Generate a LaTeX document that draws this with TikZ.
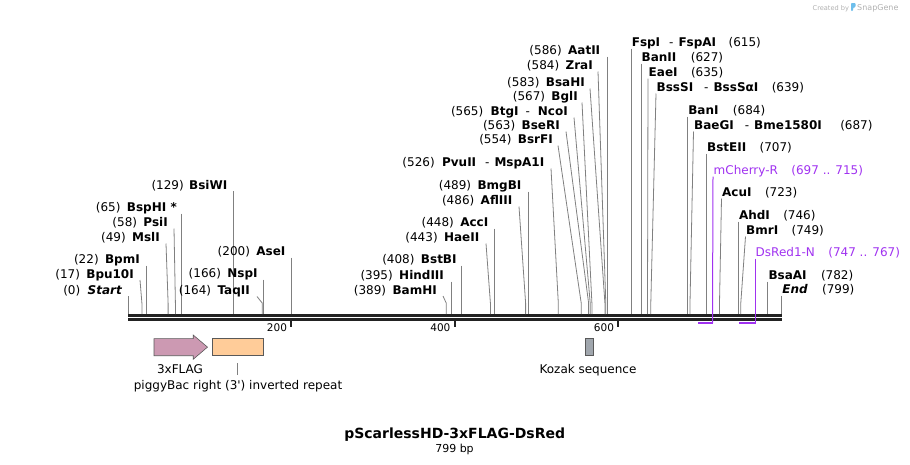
\documentclass[tikz,border=0pt]{standalone}
\usepackage{fontspec}
\setmainfont{DejaVu Sans}
\usetikzlibrary{positioning}
\definecolor{cutgray}{RGB}{128,128,128}
\definecolor{primerpurple}{RGB}{160,50,240}
\definecolor{flagpink}{RGB}{204,153,178}
\definecolor{irorange}{RGB}{255,204,153}
\definecolor{kozakgray}{RGB}{160,166,173}
\definecolor{barblack}{RGB}{34,34,34}
\definecolor{markgray}{RGB}{176,176,176}
\definecolor{markblue}{RGB}{110,190,235}
\begin{document}
\begin{tikzpicture}[x=1pt,y=-1pt,
  enz/.style={inner sep=0pt,font=\fontsize{12}{14}\selectfont\bfseries},
  endlab/.style={inner sep=0pt,font=\fontsize{12}{14}\selectfont\bfseries\itshape},
  num/.style={inner sep=0pt,font=\fontsize{12}{14}\selectfont},
  cut/.style={cutgray,line width=0.8pt},
  feat/.style={draw=black!65,line width=0.6pt}]
\useasboundingbox (0,0) rectangle (910,464);

% the sequence
\draw[barblack,line width=3pt] (128,315.5) -- (781.7,315.5);
\draw[barblack,line width=3pt] (128,319.5) -- (781.7,319.5);
\coordinate (k200) at (291.2,321);
\coordinate (k400) at (454.6,321);
\coordinate (k600) at (618.2,321);
\draw[barblack,line width=2pt] (k200) -- ++(0,6);
\draw[barblack,line width=2pt] (k400) -- ++(0,6);
\draw[barblack,line width=2pt] (k600) -- ++(0,6);
\node[num,font=\fontsize{10.5}{12}\selectfont,anchor=base east] (n200) at ([shift={(-4,10)}]k200) {200};
\node[num,font=\fontsize{10.5}{12}\selectfont,anchor=base east] (n400) at ([shift={(-4,10)}]k400) {400};
\node[num,font=\fontsize{10.5}{12}\selectfont,anchor=base east] (n600) at ([shift={(-4,10)}]k600) {600};

% sites left of their lines
\coordinate (s0) at (128,314);
\node[endlab,anchor=base east] (Start) at (122,294) {Start};
\node[num,left=7pt of Start.base west,anchor=base east] (pStart) {(0)};
\draw[cut] ([shift={(6,2)}]Start.base east) -- (s0);

\coordinate (s17) at (141.9,314);
\node[enz,anchor=base east] (Bpu10I) at (134,278) {Bpu10I};
\node[num,left=6pt of Bpu10I.base west,anchor=base east] (pBpu10I) {(17)};
\draw[cut] ([shift={(6,2)}]Bpu10I.base east) -- ([shift={(0,-11)}]s17) -- (s17);

\coordinate (s22) at (146,314);
\node[enz,anchor=base east] (BpmI) at (140,263.5) {BpmI};
\node[num,left=6pt of BpmI.base west,anchor=base east] (pBpmI) {(22)};
\draw[cut] ([shift={(6,2)}]BpmI.base east) -- (s22);

\coordinate (s49) at (168.1,314);
\node[enz,anchor=base east] (MslI) at (160,241.5) {MslI};
\node[num,left=6pt of MslI.base west,anchor=base east] (pMslI) {(49)};
\draw[cut] ([shift={(6,2)}]MslI.base east) -- ([shift={(0,-11)}]s49) -- (s49);

\coordinate (s58) at (175.4,314);
\node[enz,anchor=base east] (PsiI) at (168,226.5) {PsiI};
\node[num,left=6pt of PsiI.base west,anchor=base east] (pPsiI) {(58)};
\draw[cut] ([shift={(6,2)}]PsiI.base east) -- ([shift={(0,-11)}]s58) -- (s58);

\coordinate (s65) at (181.2,314);
\node[enz,anchor=base east] (BspHI) at (177,211.5) {BspHI *};
\node[num,left=6pt of BspHI.base west,anchor=base east] (pBspHI) {(65)};
\draw[cut] ([shift={(4.2,2)}]BspHI.base east) -- (s65);

\coordinate (s129) at (233.5,314);
\node[enz,anchor=base east] (BsiWI) at (227.5,189) {BsiWI};
\node[num,left=5pt of BsiWI.base west,anchor=base east] (pBsiWI) {(129)};
\draw[cut] ([shift={(6,2)}]BsiWI.base east) -- (s129);

\coordinate (s164) at (262.2,314);
\node[enz,anchor=base east] (TaqII) at (250,294.5) {TaqII};
\node[num,left=6pt of TaqII.base west,anchor=base east] (pTaqII) {(164)};
\draw[cut] ([shift={(7,2)}]TaqII.base east) -- ([shift={(0,-11)}]s164) -- (s164);

\coordinate (s166) at (263.8,314);
\node[enz,anchor=base east] (NspI) at (257.8,277.5) {NspI};
\node[num,left=6pt of NspI.base west,anchor=base east] (pNspI) {(166)};
\draw[cut] ([shift={(6,2)}]NspI.base east) -- (s166);

\coordinate (s200) at (291.6,314);
\node[enz,anchor=base east] (AseI) at (285.6,255.5) {AseI};
\node[num,left=6pt of AseI.base west,anchor=base east] (pAseI) {(200)};
\draw[cut] ([shift={(6,2)}]AseI.base east) -- (s200);

\coordinate (s389) at (446.2,314);
\node[enz,anchor=base east] (BamHI) at (437,294) {BamHI};
\node[num,left=6pt of BamHI.base west,anchor=base east] (pBamHI) {(389)};
\draw[cut] ([shift={(6,2)}]BamHI.base east) -- ([shift={(0,-11)}]s389) -- (s389);

\coordinate (s395) at (451.1,314);
\node[enz,anchor=base east] (HindIII) at (444.1,279.5) {HindIII};
\node[num,left=6pt of HindIII.base west,anchor=base east] (pHindIII) {(395)};
\draw[cut] ([shift={(7,2)}]HindIII.base east) -- (s395);

\coordinate (s408) at (461.8,314);
\node[enz,anchor=base east] (BstBI) at (456.8,263.5) {BstBI};
\node[num,left=6pt of BstBI.base west,anchor=base east] (pBstBI) {(408)};
\draw[cut] ([shift={(5,2)}]BstBI.base east) -- (s408);

\coordinate (s443) at (490.4,314);
\node[enz,anchor=base east] (HaeII) at (479.5,241.5) {HaeII};
\node[num,left=6pt of HaeII.base west,anchor=base east] (pHaeII) {(443)};
\draw[cut] ([shift={(6.5,2)}]HaeII.base east) -- ([shift={(0,-11)}]s443) -- (s443);

\coordinate (s448) at (494.5,314);
\node[enz,anchor=base east] (AccI) at (488.5,226.5) {AccI};
\node[num,left=6pt of AccI.base west,anchor=base east] (pAccI) {(448)};
\draw[cut] ([shift={(6,2)}]AccI.base east) -- (s448);

\coordinate (s486) at (525.6,314);
\node[enz,anchor=base east] (AflIII) at (512.5,204.5) {AflIII};
\node[num,left=6pt of AflIII.base west,anchor=base east] (pAflIII) {(486)};
\draw[cut] ([shift={(6.5,2)}]AflIII.base east) -- ([shift={(0,-11)}]s486) -- (s486);

\coordinate (s489) at (528.1,314);
\node[enz,anchor=base east] (BmgBI) at (521.6,189.5) {BmgBI};
\node[num,left=6pt of BmgBI.base west,anchor=base east] (pBmgBI) {(489)};
\draw[cut] ([shift={(6.5,2)}]BmgBI.base east) -- (s489);

\coordinate (s526) at (558.3,314);
\node[enz,anchor=base east] (PvuII) at (544.5,166.5) {PvuII\hspace{9pt}{\mdseries -}\hspace{5pt}MspA1I};
\node[num,left=7pt of PvuII.base west,anchor=base east] (pPvuII) {(526)};
\draw[cut] ([shift={(6.5,2)}]PvuII.base east) -- ([shift={(0,-11)}]s526) -- (s526);

\coordinate (s554) at (581.2,314);
\node[enz,anchor=base east] (BsrFI) at (553,143.5) {BsrFI};
\node[num,left=6pt of BsrFI.base west,anchor=base east] (pBsrFI) {(554)};
\draw[cut] ([shift={(5,2)}]BsrFI.base east) -- ([shift={(0,-11)}]s554) -- (s554);

\coordinate (s563) at (588.6,314);
\node[enz,anchor=base east] (BseRI) at (560,129.5) {BseRI};
\node[num,left=6pt of BseRI.base west,anchor=base east] (pBseRI) {(563)};
\draw[cut] ([shift={(6,2)}]BseRI.base east) -- ([shift={(0,-11)}]s563) -- (s563);

\coordinate (s565) at (590.2,314);
\node[enz,anchor=base east] (BtgI) at (568,115.5) {BtgI\hspace{7pt}{\mdseries -}\hspace{8pt}NcoI};
\node[num,left=7pt of BtgI.base west,anchor=base east] (pBtgI) {(565)};
\draw[cut] ([shift={(6,2)}]BtgI.base east) -- ([shift={(0,-11)}]s565) -- (s565);

\coordinate (s567) at (591.9,314);
\node[enz,anchor=base east] (BglI) at (578,100.5) {BglI};
\node[num,left=6pt of BglI.base west,anchor=base east] (pBglI) {(567)};
\draw[cut] ([shift={(4,2)}]BglI.base east) -- ([shift={(0,-11)}]s567) -- (s567);

\coordinate (s583) at (604.9,314);
\node[enz,anchor=base east] (BsaHI) at (585,86.5) {BsaHI};
\node[num,left=6pt of BsaHI.base west,anchor=base east] (pBsaHI) {(583)};
\draw[cut] ([shift={(5,2)}]BsaHI.base east) -- ([shift={(0,-11)}]s583) -- (s583);

\coordinate (s584) at (605.8,314);
\node[enz,anchor=base east] (ZraI) at (593,69.5) {ZraI};
\node[num,left=6pt of ZraI.base west,anchor=base east] (pZraI) {(584)};
\draw[cut] ([shift={(5,2)}]ZraI.base east) -- ([shift={(0,-11)}]s584) -- (s584);

\coordinate (s586) at (607.4,314);
\node[enz,anchor=base east] (AatII) at (600.4,54.5) {AatII};
\node[num,left=6pt of AatII.base west,anchor=base east] (pAatII) {(586)};
\draw[cut] ([shift={(7,2)}]AatII.base east) -- (s586);

% sites right of their lines
\coordinate (s615) at (631.1,314);
\node[enz,anchor=base west] (FspI) at (631.6,46.5) {FspI\hspace{9pt}{\mdseries -}\hspace{5pt}FspAI};
\node[num,right=12pt of FspI.base east,anchor=base west] (pFspI) {(615)};
\draw[cut] ([shift={(-0.5,2)}]FspI.base west) -- (s615);

\coordinate (s627) at (641,314);
\node[enz,anchor=base west] (BanII) at (641.5,61.5) {BanII};
\node[num,right=14pt of BanII.base east,anchor=base west] (pBanII) {(627)};
\draw[cut] ([shift={(-0.5,2)}]BanII.base west) -- (s627);

\coordinate (s635) at (647.5,314);
\node[enz,anchor=base west] (EaeI) at (648.5,76.5) {EaeI};
\node[num,right=13pt of EaeI.base east,anchor=base west] (pEaeI) {(635)};
\draw[cut] ([shift={(-0.5,2)}]EaeI.base west) -- ([shift={(0,-11)}]s635) -- (s635);

\coordinate (s639) at (650.8,314);
\node[enz,anchor=base west] (BssSI) at (656.5,91.5) {BssSI\hspace{11pt}{\mdseries -}\hspace{5pt}BssSαI};
\node[num,right=13pt of BssSI.base east,anchor=base west] (pBssSI) {(639)};
\draw[cut] ([shift={(-0.5,2)}]BssSI.base west) -- ([shift={(0,-11)}]s639) -- (s639);

\coordinate (s684) at (687.6,314);
\node[enz,anchor=base west] (BanI) at (688.1,114.5) {BanI};
\node[num,right=14pt of BanI.base east,anchor=base west] (pBanI) {(684)};
\draw[cut] ([shift={(-0.5,2)}]BanI.base west) -- (s684);

\coordinate (s687) at (690,314);
\node[enz,anchor=base west] (BaeGI) at (694,129.5) {BaeGI\hspace{11pt}{\mdseries -}\hspace{5pt}Bme1580I};
\node[num,right=18pt of BaeGI.base east,anchor=base west] (pBaeGI) {(687)};
\draw[cut] ([shift={(-0.5,2)}]BaeGI.base west) -- ([shift={(0,-11)}]s687) -- (s687);

\coordinate (s707) at (706.4,314);
\node[enz,anchor=base west] (BstEII) at (706.9,151.5) {BstEII};
\node[num,right=13pt of BstEII.base east,anchor=base west] (pBstEII) {(707)};
\draw[cut] ([shift={(-0.5,2)}]BstEII.base west) -- (s707);

\coordinate (s723) at (719.5,314);
\node[enz,anchor=base west] (AcuI) at (722,196.5) {AcuI};
\node[num,right=13pt of AcuI.base east,anchor=base west] (pAcuI) {(723)};
\draw[cut] ([shift={(-0.5,2)}]AcuI.base west) -- ([shift={(0,-11)}]s723) -- (s723);

\coordinate (s746) at (738.3,314);
\node[enz,anchor=base west] (AhdI) at (738.8,219.5) {AhdI};
\node[num,right=13pt of AhdI.base east,anchor=base west] (pAhdI) {(746)};
\draw[cut] ([shift={(-0.5,2)}]AhdI.base west) -- (s746);

\coordinate (s749) at (740.8,314);
\node[enz,anchor=base west] (BmrI) at (746,234.5) {BmrI};
\node[num,right=13pt of BmrI.base east,anchor=base west] (pBmrI) {(749)};
\draw[cut] ([shift={(-0.5,2)}]BmrI.base west) -- ([shift={(0,-11)}]s749) -- (s749);

\coordinate (s782) at (767.8,314);
\node[enz,anchor=base west] (BsaAI) at (768.3,279.5) {BsaAI};
\node[num,right=14pt of BsaAI.base east,anchor=base west] (pBsaAI) {(782)};
\draw[cut] ([shift={(-0.5,2)}]BsaAI.base west) -- (s782);

\coordinate (s799) at (781.7,314);
\node[endlab,anchor=base west] (End) at (782.2,293.5) {End};
\node[num,right=14pt of End.base east,anchor=base west] (pEnd) {(799)};
\draw[cut] ([shift={(-0.5,2)}]End.base west) -- (s799);

% primers
\coordinate (mc697) at (698.2,323);
\coordinate (mc715) at (712.5,323);
\node[num,text=primerpurple,anchor=base west] (mCherryR) at (713.5,174.5) {mCherry-R};
\node[num,text=primerpurple,right=13pt of mCherryR.base east,anchor=base west] (pmCherryR) {(697 .. 715)};
\draw[primerpurple,line width=1pt] ([shift={(-0.5,2)}]mCherryR.base west) -- (mc715);
\draw[primerpurple,line width=1.8pt] (mc697) -- (mc715) -- ++(0,-3);

\coordinate (ds747) at (739.1,323);
\coordinate (ds767) at (755.5,323);
\node[num,text=primerpurple,anchor=base west] (DsRedN) at (755.5,256.5) {DsRed1-N};
\node[num,text=primerpurple,right=13pt of DsRedN.base east,anchor=base west] (pDsRedN) {(747 .. 767)};
\draw[primerpurple,line width=1pt] ([shift={(0,2)}]DsRedN.base west) -- (ds767);
\draw[primerpurple,line width=1.8pt] (ds747) -- (ds767) -- ++(0,-3);

% features
\draw[feat,fill=flagpink] (154,338.6) -- (193.2,338.6) -- (193.2,335) -- (207.5,347.1)
  -- (193.2,359.3) -- (193.2,355.7) -- (154,355.7) -- cycle;
\node[num,anchor=base] (flag) at (180,373.6) {3xFLAG};
\node[feat,fill=irorange,minimum width=51.6pt,minimum height=17.1pt,inner sep=0pt] (pbir) at (237.8,347.1) {};
\node[num,anchor=base] (pbirlab) at (238,389.6) {piggyBac right (3\textquotesingle) inverted repeat};
\draw[cut] ([shift={(0,7.5)}]pbir.south) -- ++(0,12);
\node[feat,fill=kozakgray,minimum width=8pt,minimum height=17.1pt,inner sep=0pt] (kozak) at (589,347.1) {};
\node[num,anchor=base] (kozaklab) at (588,373.6) {Kozak sequence};

% title
\node[inner sep=0pt,font=\fontsize{14}{16}\selectfont\bfseries,anchor=base] (title) at (454.7,438.3) {pScarlessHD-3xFLAG-DsRed};
\node[inner sep=0pt,font=\fontsize{11}{13}\selectfont,anchor=base] (length) at (454.5,452.5) {799 bp};

% maker mark
\node[inner sep=0pt,font=\fontsize{6.6}{8}\selectfont,text=markgray,anchor=base west] (madeby) at (812.5,10.5) {Created by};
\fill[markblue,rounded corners=0.8pt] (851,3) -- (855.5,3) -- (855.5,7) -- (853,8) -- (853,11) -- (851,11) -- cycle;
\node[inner sep=0pt,font=\fontsize{8}{10}\selectfont,text=markgray,anchor=base west] (snapgene) at (857,10.8) {SnapGene};
\end{tikzpicture}
\end{document}
